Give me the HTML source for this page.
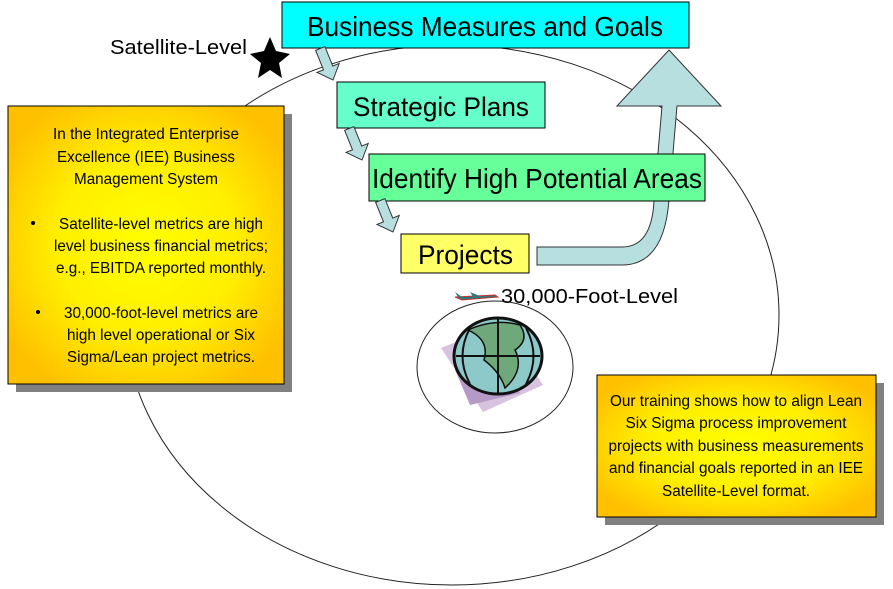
<!DOCTYPE html>
<html><head><meta charset="utf-8"><style>
html,body{margin:0;padding:0;background:#fff;}
svg{display:block;}
text{font-family:"Liberation Sans",sans-serif;fill:#000;}
</style></head><body>
<svg width="893" height="589" viewBox="0 0 893 589" xmlns="http://www.w3.org/2000/svg">
<defs>
<radialGradient id="g" cx="50%" cy="50%" r="60%">
<stop offset="0" stop-color="#ffff00"/><stop offset="0.55" stop-color="#ffee00"/><stop offset="1" stop-color="#ffc000"/>
</radialGradient>
<g id="arr"><polygon points="-5,-34 5,-34 5,-13 12,-13 0,0 -12,-13 -5,-13" fill="#b8dfe0" stroke="#333" stroke-width="1"/></g>
</defs>
<ellipse cx="452" cy="315" rx="327" ry="270" fill="none" stroke="#222" stroke-width="1"/>
<ellipse cx="495" cy="367" rx="78" ry="66" fill="#fff" stroke="#222" stroke-width="1"/>
<polygon points="441,348 503,323 543,385 483,412" fill="#d7c3e0"/>
<polygon points="455,370 503,352 520,393 470,405" fill="#b59ac8"/>
<ellipse cx="498" cy="356" rx="44" ry="38" fill="#8ec9c9" stroke="#111" stroke-width="3"/>
<path d="M468,330 Q490,340 484,360 Q500,372 505,388 Q525,370 515,350 Q530,340 520,325 Q495,318 468,330Z" fill="#6fa87a" stroke="#111" stroke-width="1.5"/>
<path d="M456,356 H540 M498,318 V394 M470,328 Q455,356 470,384 M526,328 Q541,356 526,384" fill="none" stroke="#111" stroke-width="2"/>
<polygon points="270,37 276,51 290,54 279,63 282,78 270,70 258,78 261,63 250,54 264,51" fill="#000"/>
<text x="110" y="54" font-size="20" textLength="137" lengthAdjust="spacingAndGlyphs">Satellite-Level</text>
<path d="M455,297 L495,295 L498,297 L462,300 Z" fill="#2a7a7a" stroke="#c33" stroke-width="1"/>
<path d="M455,292 L462,297 L458,297 Z M470,292 L482,297 L474,298 Z" fill="#2a7a7a"/>
<text x="501" y="303" font-size="20" textLength="177" lengthAdjust="spacingAndGlyphs">30,000-Foot-Level</text>
<path d="M537,247 L622,247 Q652,247 654,200 L662,106 L617,106 L669,50 L721,106 L677,106 L669,200 Q664,265 622,265 L537,265 Z" fill="#b8dfe0" stroke="#333" stroke-width="1"/>
<rect x="282" y="2" width="407" height="46" fill="#00ffff" stroke="#000"/>
<text x="307" y="36" font-size="28" textLength="356" lengthAdjust="spacingAndGlyphs">Business Measures and Goals</text>
<rect x="337" y="82" width="208" height="46" fill="#66ffcc" stroke="#000"/>
<text x="353" y="116" font-size="27" textLength="176" lengthAdjust="spacingAndGlyphs">Strategic Plans</text>
<rect x="369" y="154" width="336" height="47" fill="#66ff99" stroke="#000"/>
<text x="372" y="188" font-size="28" textLength="330" lengthAdjust="spacingAndGlyphs">Identify High Potential Areas</text>
<rect x="401" y="234" width="128" height="39" fill="#ffff66" stroke="#000"/>
<text x="418" y="264" font-size="27" textLength="95" lengthAdjust="spacingAndGlyphs">Projects</text>
<use href="#arr" transform="translate(333,80) rotate(-22)"/>
<use href="#arr" transform="translate(362,160) rotate(-22)"/>
<use href="#arr" transform="translate(393,232) rotate(-22)"/>
<rect x="16" y="114" width="276" height="278" fill="#808080"/>
<rect x="8" y="106" width="276" height="278" fill="url(#g)" stroke="#000"/>
<g font-size="16" text-anchor="middle" lengthAdjust="spacingAndGlyphs">
<text x="146" y="139" textLength="186" lengthAdjust="spacingAndGlyphs">In the Integrated Enterprise</text>
<text x="146" y="162" textLength="178" lengthAdjust="spacingAndGlyphs">Excellence (IEE) Business</text>
<text x="146" y="184" textLength="144" lengthAdjust="spacingAndGlyphs">Management System</text>
<text x="161" y="229" textLength="204" lengthAdjust="spacingAndGlyphs">Satellite-level metrics are high</text>
<text x="161" y="251" textLength="214" lengthAdjust="spacingAndGlyphs">level business financial metrics;</text>
<text x="161" y="273" textLength="210" lengthAdjust="spacingAndGlyphs">e.g., EBITDA reported monthly.</text>
<text x="161" y="318" textLength="194" lengthAdjust="spacingAndGlyphs">30,000-foot-level metrics are</text>
<text x="161" y="340" textLength="188" lengthAdjust="spacingAndGlyphs">high level operational or Six</text>
<text x="161" y="362" textLength="188" lengthAdjust="spacingAndGlyphs">Sigma/Lean project metrics.</text>
</g>
<circle cx="33" cy="223" r="2" fill="#000"/>
<circle cx="38" cy="312" r="2" fill="#000"/>
<rect x="605" y="383" width="279" height="142" fill="#808080"/>
<rect x="597" y="375" width="279" height="142" fill="url(#g)" stroke="#000"/>
<g font-size="16" text-anchor="middle">
<text x="736" y="406" textLength="252" lengthAdjust="spacingAndGlyphs">Our training shows how to align Lean</text>
<text x="736" y="428" textLength="221" lengthAdjust="spacingAndGlyphs">Six Sigma process improvement</text>
<text x="736" y="451" textLength="255" lengthAdjust="spacingAndGlyphs">projects with business measurements</text>
<text x="736" y="473" textLength="254" lengthAdjust="spacingAndGlyphs">and financial goals reported in an IEE</text>
<text x="736" y="496" textLength="148" lengthAdjust="spacingAndGlyphs">Satellite-Level format.</text>
</g>
</svg>
</body></html>
